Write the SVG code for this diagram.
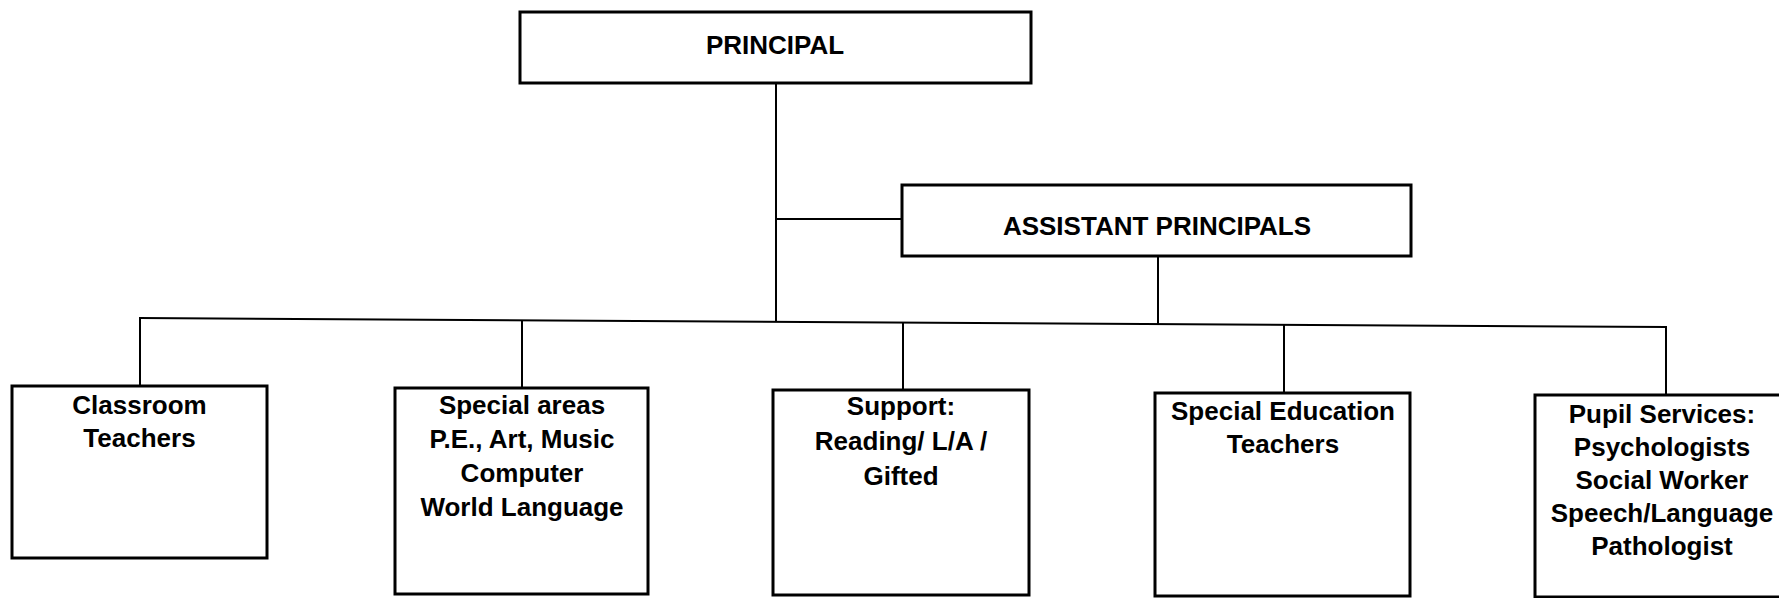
<svg xmlns="http://www.w3.org/2000/svg" width="1779" height="598" viewBox="0 0 1779 598">
<style>
.box{fill:#fff;stroke:#000;stroke-width:3}
.conn{fill:none;stroke:#000;stroke-width:2}
text{font-family:"Liberation Sans",Arial,sans-serif;font-weight:bold;font-size:26px;fill:#000;text-anchor:middle}
</style>
<rect width="1779" height="598" fill="#fff"/>
<g id="connectors">
<line class="conn" x1="776" y1="83" x2="776" y2="322"/>
<line class="conn" x1="776" y1="219" x2="902" y2="219"/>
<line class="conn" x1="1158" y1="256" x2="1158" y2="324"/>
<line class="conn" x1="139" y1="318" x2="1667" y2="327"/>
<line class="conn" x1="140" y1="318" x2="140" y2="386"/>
<line class="conn" x1="522" y1="320" x2="522" y2="388"/>
<line class="conn" x1="903" y1="322.5" x2="903" y2="390"/>
<line class="conn" x1="1284" y1="325" x2="1284" y2="393"/>
<line class="conn" x1="1666" y1="327" x2="1666" y2="395"/>
</g>
<g id="principal">
<rect class="box" x="520" y="12" width="511" height="71"/>
<text x="775" y="54">PRINCIPAL</text>
</g>
<g id="assistant">
<rect class="box" x="902" y="185" width="509" height="71"/>
<text x="1157" y="235">ASSISTANT PRINCIPALS</text>
</g>
<g id="classroom">
<rect class="box" x="12" y="386" width="255" height="172"/>
<text x="139.5" y="414">Classroom</text>
<text x="139.5" y="447">Teachers</text>
</g>
<g id="special-areas">
<rect class="box" x="395" y="388" width="253" height="206"/>
<text x="522" y="414">Special areas</text>
<text x="522" y="448">P.E., Art, Music</text>
<text x="522" y="482">Computer</text>
<text x="522" y="516">World Language</text>
</g>
<g id="support">
<rect class="box" x="773" y="390" width="256" height="205"/>
<text x="901" y="415">Support:</text>
<text x="901" y="450">Reading/ L/A /</text>
<text x="901" y="485">Gifted</text>
</g>
<g id="special-education">
<rect class="box" x="1155" y="393" width="255" height="203"/>
<text x="1283" y="420">Special Education</text>
<text x="1283" y="453">Teachers</text>
</g>
<g id="pupil-services">
<rect class="box" x="1535" y="395" width="260" height="202"/>
<text x="1662" y="423">Pupil Services:</text>
<text x="1662" y="456">Psychologists</text>
<text x="1662" y="489">Social Worker</text>
<text x="1662" y="522">Speech/Language</text>
<text x="1662" y="555">Pathologist</text>
</g>
</svg>
